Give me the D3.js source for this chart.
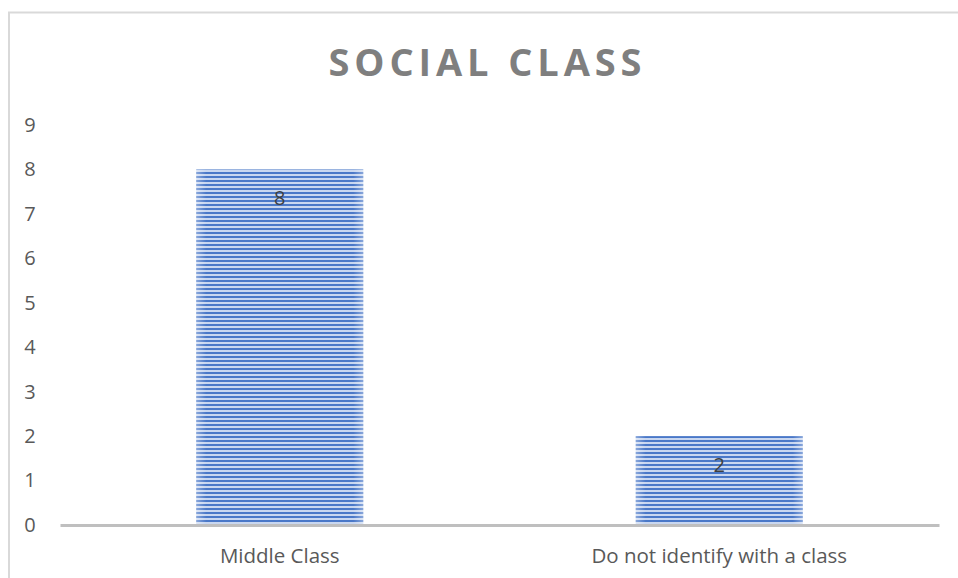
<!DOCTYPE html>
<html>
<head>
<meta charset="utf-8">
<script src="https://cdn.jsdelivr.net/npm/d3@7"></script>
<style>
  html, body { margin: 0; padding: 0; background: #fff; }
  svg { display: block; }
</style>
</head>
<body>
<svg id="chart" width="958" height="578"></svg>
<script>
// Survey responses by self-identified social class
const categories = ["Middle Class", "Do not identify with a class"];
const counts = [8, 2];
const yTicks = [0, 1, 2, 3, 4, 5, 6, 7, 8, 9];
const titleText = "SOCIAL CLASS";

const svg = d3.select("#chart");
const W = 958, H = 578;
const plot = { left: 60, right: 939, top: 125, bottom: 525 };
const font = "'Open Sans', 'Noto Sans', sans-serif";

// Chart frame
svg.append("path")
  .attr("d", `M9,${H} V12.5 H${W}`)
  .attr("fill", "none")
  .attr("stroke", "#d9d9d9")
  .attr("stroke-width", 2);

// Horizontal-stripe fill for the bars
const defs = svg.append("defs");
const pat = defs.append("pattern")
  .attr("id", "hstripe")
  .attr("patternUnits", "userSpaceOnUse")
  .attr("width", 8).attr("height", 4);
pat.append("rect").attr("width", 8).attr("height", 4).attr("fill", "#c9d7f0");
pat.append("rect").attr("width", 8).attr("height", 2).attr("fill", "#4a78c8");

const edge = defs.append("linearGradient").attr("id", "edgefade")
  .attr("x1", 0).attr("x2", 1).attr("y1", 0).attr("y2", 0);
[[0, 0.35], [0.06, 0], [0.94, 0], [1, 0.35]].forEach(([o, a]) =>
  edge.append("stop").attr("offset", o).attr("stop-color", "#fff").attr("stop-opacity", a));

const x = d3.scaleBand().domain(categories).range([plot.left, plot.right]).paddingInner(0.62).paddingOuter(0.31);
const y = d3.scaleLinear().domain([0, 9]).range([plot.bottom, plot.top]);

// Title
svg.append("text")
  .attr("x", 485).attr("y", 76)
  .attr("text-anchor", "middle")
  .attr("font-family", font)
  .attr("font-weight", 700)
  .attr("font-size", 38)
  .attr("fill", "#7f7f7f")
  .attr("textLength", 313)
  .attr("lengthAdjust", "spacing")
  .text(titleText);

// Value axis labels (no axis line)
const yAxis = svg.append("g")
  .attr("transform", `translate(${plot.left},0)`)
  .call(d3.axisLeft(y).tickValues(yTicks).tickSize(0).tickPadding(30).tickFormat(d3.format("d")));
yAxis.select(".domain").remove();
yAxis.selectAll("text")
  .attr("font-family", font)
  .attr("font-size", 20)
  .attr("fill", "#595959")
  .attr("text-anchor", "middle");

// Bars
const bars = svg.append("g");
bars.selectAll("rect.bar")
  .data(counts)
  .join("rect")
  .attr("class", "bar")
  .attr("x", (d, i) => x(categories[i]))
  .attr("y", d => y(d))
  .attr("width", x.bandwidth())
  .attr("height", d => y(0) - y(d))
  .attr("fill", "url(#hstripe)");
bars.selectAll("rect.fade")
  .data(counts)
  .join("rect")
  .attr("class", "fade")
  .attr("x", (d, i) => x(categories[i]))
  .attr("y", d => y(d))
  .attr("width", x.bandwidth())
  .attr("height", d => y(0) - y(d))
  .attr("fill", "url(#edgefade)");

// Data labels inside the bar top
svg.append("g").selectAll("text")
  .data(counts)
  .join("text")
  .attr("x", (d, i) => x(categories[i]) + x.bandwidth() / 2)
  .attr("y", d => y(d) + 36)
  .attr("text-anchor", "middle")
  .attr("font-family", font)
  .attr("font-size", 20)
  .attr("fill", "#404040")
  .text(d => d);

// Category axis
const xAxis = svg.append("g")
  .attr("transform", `translate(0,${plot.bottom})`)
  .call(d3.axisBottom(x).tickSize(0).tickPadding(23));
xAxis.select(".domain")
  .attr("stroke", "#bfbfbf")
  .attr("stroke-width", 3);
xAxis.selectAll("text")
  .attr("font-family", font)
  .attr("font-size", 20.5)
  .attr("fill", "#595959");
</script>
</body>
</html>
